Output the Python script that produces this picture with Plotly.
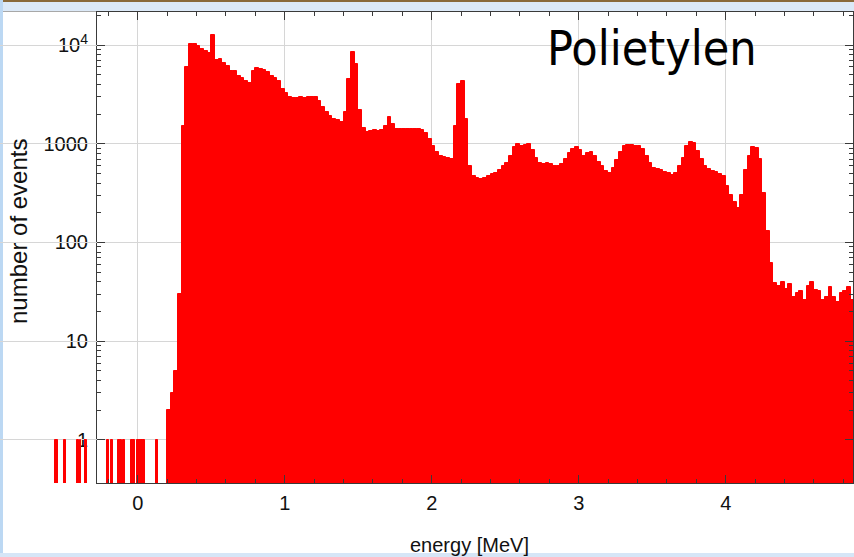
import plotly.graph_objects as go

# ---- data ----
bin_width = 0.025
e_start = 0.2
counts = [
    2, 3, 5, 30, 1500, 6000, 10300, 10200, 9700, 9200,
    8700, 8300, 12700, 7000, 7300, 6600, 6200, 5500, 5500, 4900,
    4600, 4300, 4100, 5400, 5800, 5700, 5600, 5300, 4900, 4600,
    4300, 3600, 3250, 2950, 2900, 2900, 2950, 2900, 2950, 3000,
    3000, 2700, 2350, 2100, 1900, 1800, 1750, 1680, 2100, 4500,
    8600, 6500, 2200, 1450, 1330, 1350, 1370, 1360, 1380, 1500,
    1850, 1600, 1420, 1400, 1420, 1400, 1420, 1410, 1400, 1390,
    1300, 1120, 950, 830, 760, 740, 720, 700, 1500, 4000,
    4300, 1800, 600, 470, 450, 440, 445, 470, 490, 510,
    540, 590, 640, 760, 920, 1000, 950, 980, 990, 860,
    720, 640, 630, 640, 620, 600, 590, 630, 700, 810,
    880, 920, 860, 750, 800, 820, 760, 660, 590, 530,
    510, 570, 690, 820, 950, 970, 970, 960, 940, 880,
    760, 640, 570, 550, 540, 520, 510, 480, 500, 600,
    720, 950, 1040, 1030, 850, 700, 600, 550, 530, 520,
    490, 470, 370, 300, 260, 225, 300, 540, 760, 920,
    900, 700, 320, 130, 62, 39, 36, 40, 34, 38,
    28, 31, 32, 26, 36, 40, 33, 32, 26, 28,
    35, 28, 25, 31, 32, 35, 26, 33,
]
energies = [e_start + bin_width * (i + 0.5) for i in range(len(counts))]

# isolated single-count entries at low energy
single_energies = [-0.556, -0.549, -0.495, -0.406, -0.392, -0.358, -0.352,
                   -0.202, -0.175, -0.127, -0.114, -0.093, -0.039, -0.025,
                   0.002, 0.016, 0.029, 0.043, 0.131, 0.206]
single_counts = [1] * len(single_energies)

x_ticks = [0, 1, 2, 3, 4]
y_tickvals = [1, 10, 100, 1000, 10000]
y_ticktext = ["1", "10", "100", "1000", "10<sup>4</sup>"]
y_minor = [m * d for d in (1, 10, 100, 1000) for m in range(2, 10)] + [20000]

RED = "#ff0000"
W, H = 854, 557
L_PX, R_PX, T_PX, B_PX = 97, 853, 12, 483
dom0 = L_PX / 853
XMIN, XMAX = -0.277, 4.866
X2MIN = -0.937

inside_e = [e for e in single_energies if e >= XMIN]
inside_c = [c for e, c in zip(single_energies, single_counts) if e >= XMIN]
outside_e = [e for e in single_energies if e < XMIN]
outside_c = [c for e, c in zip(single_energies, single_counts) if e < XMIN]

bar_marker = dict(color=RED, line=dict(width=1, color=RED))
fig = go.Figure()
fig.add_trace(go.Bar(x=energies, y=counts, width=bin_width, marker=bar_marker,
                     xaxis="x", yaxis="y"))
fig.add_trace(go.Bar(x=inside_e, y=inside_c, width=0.008, marker=bar_marker,
                     xaxis="x", yaxis="y"))
fig.add_trace(go.Bar(x=outside_e, y=outside_c, width=0.008, marker=bar_marker,
                     xaxis="x2", yaxis="y"))

axis_col = "#3a3a3a"
grid_col = "#d6d6d6"
tick_font = dict(family="Liberation Sans, Arial, sans-serif", size=20, color="#111")

fig.update_layout(
    width=W, height=H,
    margin=dict(l=0, r=1, t=T_PX, b=H - B_PX),
    paper_bgcolor="white", plot_bgcolor="rgba(0,0,0,0)",
    showlegend=False, barmode="overlay", bargap=0,
    xaxis=dict(domain=[dom0, 1], range=[XMIN, XMAX], tickvals=x_ticks,
               ticks="inside", ticklen=8, tickcolor=axis_col, mirror="ticks",
               showline=True, linecolor=axis_col, linewidth=1,
               showgrid=True, gridcolor=grid_col, zeroline=False,
               minor=dict(ticks="inside", ticklen=4, dtick=0.2, tick0=0,
                          tickcolor=axis_col, showgrid=False),
               tickfont=tick_font, ticklabelstandoff=2, anchor="y"),
    xaxis2=dict(domain=[0, dom0], range=[X2MIN, XMIN], visible=False,
                anchor="y", showgrid=False),
    yaxis=dict(type="log", range=[-0.437, 4.335], tickmode="array",
               tickvals=y_tickvals, ticktext=y_ticktext,
               ticks="inside", ticklen=8, tickcolor=axis_col, mirror="ticks",
               showline=True, linecolor=axis_col, linewidth=1,
               showgrid=True, gridcolor=grid_col, zeroline=False,
               minor=dict(ticks="inside", ticklen=4, tickmode="array",
                          tickvals=y_minor, tickcolor=axis_col, showgrid=False),
               tickfont=tick_font, ticklabelstandoff=4, anchor="x"),
)

PH = B_PX - T_PX

def py(ypx):
    return (B_PX - ypx) / PH

def px(xpx):
    return xpx / 853

fig.add_annotation(text="energy [MeV]", x=px(469), y=py(545), xref="paper", yref="paper",
                   showarrow=False, xanchor="center", yanchor="middle",
                   font=dict(family="Liberation Sans, Arial, sans-serif", size=20, color="#111"))
fig.add_annotation(text="number of events", x=px(18), y=py(232), xref="paper", yref="paper",
                   showarrow=False, textangle=-90, xanchor="center", yanchor="middle",
                   font=dict(family="Liberation Sans, Arial, sans-serif", size=24, color="#111"))
fig.add_annotation(text="Polietylen", x=px(545), y=py(48), xref="paper", yref="paper",
                   showarrow=False, xanchor="left", yanchor="middle",
                   font=dict(family="DejaVu Sans Condensed, DejaVu Sans, sans-serif", size=48, color="#000"))

# slide background decorations
fig.add_shape(type="rect", xref="paper", yref="paper", x0=0, x1=1.01, y0=py(11), y1=py(-1),
              fillcolor="#dce9f7", line=dict(width=0), layer="below")
fig.add_shape(type="rect", xref="paper", yref="paper", x0=0, x1=1.01, y0=py(2), y1=py(-1),
              fillcolor="#8a6a3a", line=dict(width=0), layer="below")
fig.add_shape(type="line", xref="paper", yref="paper", x0=px(3), x1=1.01, y0=py(11.5), y1=py(11.5),
              line=dict(color="#a8a8a8", width=1), layer="below")
fig.add_shape(type="rect", xref="paper", yref="paper", x0=px(-1), x1=px(3), y0=py(558), y1=py(-1),
              fillcolor="#bcd8f3", line=dict(width=0), layer="below")
fig.add_shape(type="rect", xref="paper", yref="paper", x0=px(-1), x1=1.01, y0=py(558), y1=py(553),
              fillcolor="#d6e6f7", line=dict(width=0), layer="below")

fig.write_html("out.html")
